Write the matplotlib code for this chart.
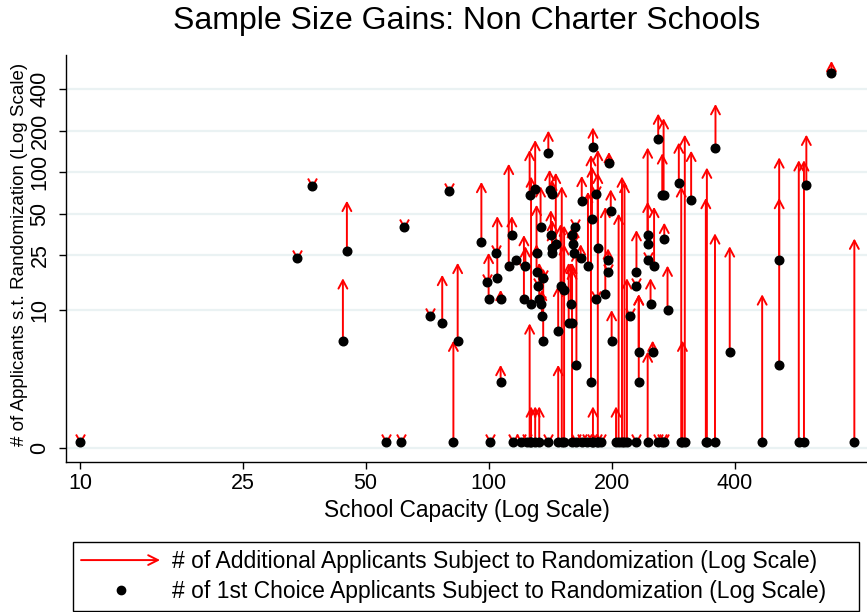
import numpy as np
import matplotlib
matplotlib.use("Agg")
import matplotlib.pyplot as plt
from matplotlib.path import Path
from matplotlib.lines import Line2D
from matplotlib.patches import FancyArrowPatch
from matplotlib.legend_handler import HandlerBase

plt.rcParams['font.family'] = ['Liberation Sans', 'DejaVu Sans']

# school capacity, 1st choice applicants, 1st choice + additional applicants
capacity = [10, 34, 37, 44, 45, 56, 61, 62, 72, 77, 80, 82, 84, 96, 99, 100, 101, 104, 105, 107,
            107, 112, 114, 115, 117, 120, 122, 123, 124, 126, 126, 127, 127, 130, 130, 131, 131, 132, 133, 133,
            134, 134, 135, 136, 136, 140, 140, 141, 142, 143, 143, 143, 146, 148, 148, 150, 151, 153, 153, 157,
            160, 160, 159, 160, 161, 162, 163, 164, 164, 168, 169, 169, 174, 175, 178, 179, 179, 180, 180, 183,
            183, 184, 185, 185, 188, 193, 196, 196, 197, 199, 200, 205, 208, 212, 215, 218, 222, 230, 230, 230,
            233, 233, 245, 245, 246, 245, 249, 252, 254, 260, 260, 265, 266, 268, 268, 269, 274, 292, 296, 298,
            302, 313, 340, 342, 358, 359, 389, 467, 514, 514, 574, 591, 599, 690, 785]
first = [0, 24, 79, 6, 27, 0, 0, 40, 9, 8, 73, 0, 6, 31, 16, 12, 0, 26, 17, 12,
         3, 21, 35, 0, 23, 0, 12, 21, 0, 68, 0, 11, 0, 76, 0, 26, 19, 15, 12, 0,
         11, 40, 9, 6, 17, 137, 0, 74, 35, 69, 28, 26, 30, 7, 0, 15, 0, 0, 14, 8,
         0, 8, 11, 35, 30, 26, 40, 0, 4, 24, 62, 0, 0, 21, 3, 46, 0, 151, 0, 69,
         12, 0, 28, 0, 0, 13, 23, 19, 117, 52, 6, 0, 0, 0, 0, 0, 9, 19, 15, 0,
         5, 3, 35, 30, 23, 0, 11, 5, 21, 173, 0, 0, 68, 68, 0, 33, 10, 84, 0, 0,
         0, 63, 0, 0, 0, 149, 5, 0, 4, 23, 0, 0, 81, 525, 0]
total = [0, 24, 79, 17, 62, 0, 0, 40, 9, 18, 73, 6, 22, 85, 16, 26, 0, 26, 48, 14,
         4, 115, 48, 0, 25, 0, 35, 29, 0, 145, 8, 93, 2, 171, 2, 58, 30, 15, 22, 2,
         11, 79, 14, 20, 17, 200, 0, 104, 53, 88, 45, 38, 99, 15, 4, 42, 79, 41, 30, 22,
         22, 20, 22, 40, 30, 40, 40, 0, 27, 30, 94, 0, 0, 72, 133, 110, 0, 211, 2, 69,
         12, 0, 145, 99, 0, 56, 28, 19, 140, 75, 10, 2, 50, 93, 85, 17, 9, 38, 15, 0,
         13, 13, 151, 61, 23, 5, 17, 6, 56, 266, 0, 0, 137, 246, 0, 43, 21, 164, 79, 6,
         187, 143, 65, 108, 36, 312, 29, 13, 65, 128, 122, 122, 187, 640, 33]

y_ticks = [1, 10, 25, 50, 100, 200, 400]
y_labels = ["0", "10", "25", "50", "100", "200", "400"]
x_ticks = [10, 25, 50, 100, 200, 400]

cap = np.array(capacity, dtype=float)
f = np.array(first, dtype=float)
t = np.array(total, dtype=float)
# zero drawn just above the "0" line on the log scale
f_plot = np.where(f == 0, 1.1, f)
t_plot = np.where(t == 0, 1.1, t)

fig = plt.figure(figsize=(8.67, 6.12), dpi=100)
ax = fig.add_axes([65.7 / 867, 1 - 462 / 612, 1 - 65.7 / 867, (462 - 55) / 612])
ax.set_xscale('log')
ax.set_yscale('log')
ax.set_xlim(9.23, 843)
ax.set_ylim(0.79, 707)

red = '#ff0000'
astyle = '->,head_length=0.6,head_width=0.32'
for c, a, b in zip(cap, f_plot, t_plot):
    if b > a:
        ax.annotate('', xy=(c, b), xytext=(c, a),
                    arrowprops=dict(arrowstyle=astyle, color=red, lw=1.4,
                                    shrinkA=0, shrinkB=0), zorder=3)

# zero length arrows show only their head
vmark = Path([(-4.5, 8), (0, 0), (4.5, 8)], [Path.MOVETO, Path.LINETO, Path.LINETO])
same = t_plot <= f_plot
ax.plot(cap[same], f_plot[same], ls='none', marker=vmark, ms=11.5, mfc='none',
        mec=red, mew=1.4, zorder=3)

ax.plot(cap, f_plot, ls='none', marker='o', color='black', ms=6.2, zorder=5)

ax.set_yticks(y_ticks)
ax.set_yticklabels(y_labels)
ax.set_xticks(x_ticks)
ax.set_xticklabels([str(v) for v in x_ticks])
ax.minorticks_off()
ax.tick_params(axis='y', labelrotation=90, length=5, width=1, pad=6, labelsize=15.5)
ax.tick_params(axis='x', length=5, width=1, pad=3, labelsize=15.5)
for lab in ax.get_yticklabels():
    lab.set_va('center')

ax.yaxis.grid(True, color='#eaf2f3', lw=1.6)
ax.set_axisbelow(True)
ax.spines['top'].set_visible(False)
ax.spines['right'].set_visible(False)
ax.spines['left'].set_linewidth(1)
ax.spines['bottom'].set_linewidth(1)

fig.text(467 / 867, 1 - 20.5 / 612, "Sample Size Gains: Non Charter Schools",
         fontsize=23, ha='center', va='center')
fig.text(467 / 867, 1 - 510.7 / 612, "School Capacity (Log Scale)",
         fontsize=16.3, ha='center', va='center')
fig.text(20 / 867, 1 - 254 / 612, "# of Applicants s.t. Randomization (Log Scale)",
         fontsize=13.5, rotation=90, ha='center', va='center')


class ArrowHandler(HandlerBase):
    def create_artists(self, legend, orig_handle, xdescent, ydescent, width, height, fontsize, trans):
        y = height / 2 - ydescent
        arr = FancyArrowPatch((-xdescent, y), (width - xdescent, y),
                              arrowstyle='->,head_length=0.7,head_width=0.35',
                              color=red, lw=1.4, mutation_scale=10,
                              shrinkA=0, shrinkB=0, transform=trans)
        return [arr]


arrow_handle = Line2D([], [], color=red)
dot_handle = Line2D([], [], ls='none', marker='o', color='black', ms=6)
leg = fig.legend([arrow_handle, dot_handle],
                 ["# of Additional Applicants Subject to Randomization (Log Scale)",
                  "# of 1st Choice Applicants Subject to Randomization (Log Scale)"],
                 handler_map={arrow_handle: ArrowHandler()},
                 loc='lower left', mode='expand', borderaxespad=0,
                 bbox_to_anchor=(73 / 867, 1 - 611 / 612, 786 / 867, 75 / 612),
                 fontsize=16.5, handlelength=3.45, handletextpad=0.5,
                 borderpad=0.35, labelspacing=0.3, fancybox=False,
                 edgecolor='black', framealpha=1)
leg.get_frame().set_linewidth(1.0)

fig.savefig("out.png", dpi=100)
